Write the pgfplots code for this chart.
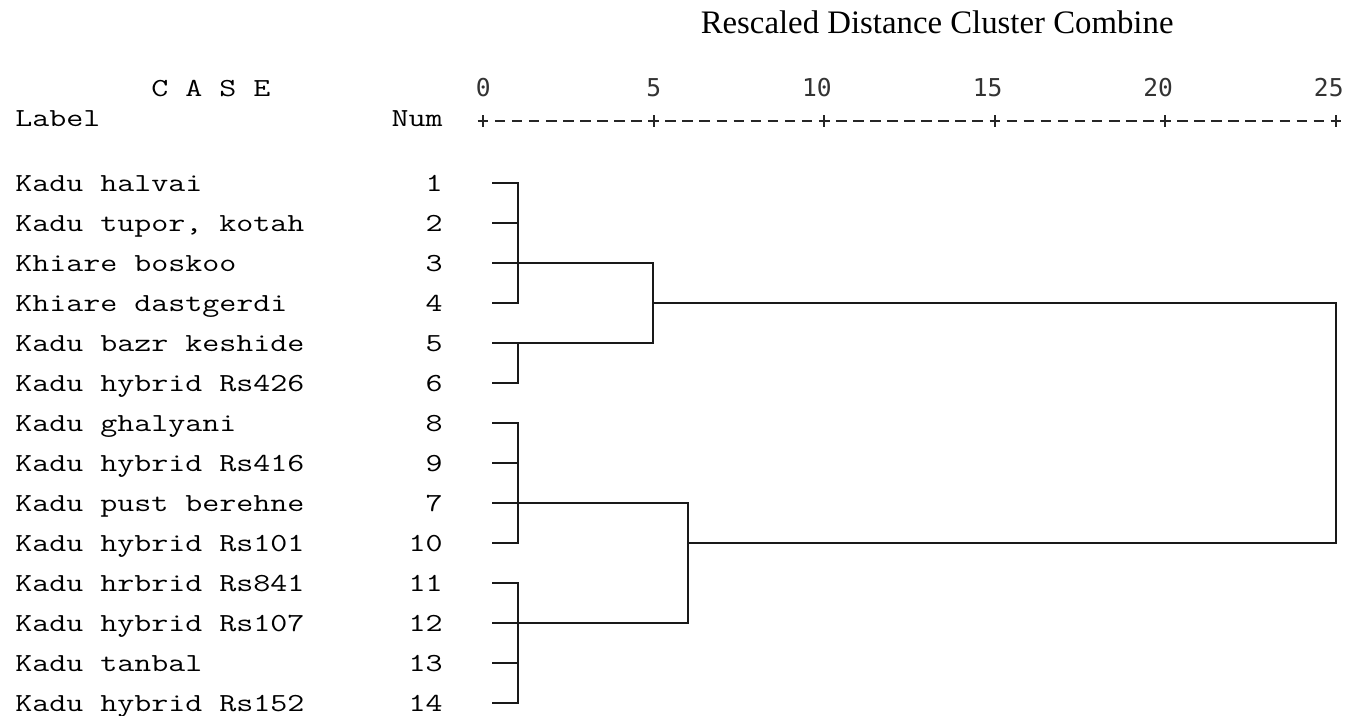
\documentclass[border=0pt]{standalone}
\usepackage{fontspec}
\setmainfont{Liberation Serif}
\newfontfamily\casefont[FakeStretch=1.27]{Latin Modern Mono}
\newfontfamily\tickfont{DejaVu Sans Mono}
\usepackage{pgfplots}
\pgfplotsset{compat=1.18}

% one x unit = one unit of rescaled distance, one y unit = one case row
\pgfplotstableread{
x y
0.27 1
1.03 1
1.03 4
0.27 4
nan nan
0.27 2
1.03 2
nan nan
0.27 3
4.99 3
4.99 5
0.27 5
nan nan
1.03 5
1.03 6
0.27 6
nan nan
4.99 4
25 4
25 10
6.02 10
nan nan
0.27 7
1.03 7
1.03 10
0.27 10
nan nan
0.27 8
1.03 8
nan nan
0.27 9
6.02 9
6.02 12
0.27 12
nan nan
0.27 11
1.03 11
1.03 14
0.27 14
nan nan
0.27 13
1.03 13
}\dendro

\begin{document}
\begin{tikzpicture}
\begin{axis}[
    at={(0,0)}, anchor=south west,
    scale only axis,
    width=673pt, height=358pt,
    xmin=-14.156, xmax=25.293,
    ymin=-3.583, ymax=14.318,
    y dir=reverse,
    hide axis,
    clip=false,
    unbounded coords=jump,
]
% dendrogram
\addplot[black!90, line width=1pt, mark=none] table {\dendro};

% ruler  +---------+---------+ ...
\addplot[black!85, line width=1pt, mark=none, dash pattern=on 5.3pt off 3.23pt]
    coordinates {(-0.155,-0.5575) (25.155,-0.5575)};
\addplot[black!85, only marks, mark=|, mark size=3pt, mark options={line width=1pt}]
    coordinates {(0,-0.5575) (5,-0.5575) (10,-0.5575) (15,-0.5575) (20,-0.5575) (25,-0.5575)};

% scale numbers
\foreach \t in {0,5,10,15,20,25} {
    \edef\tmp{\noexpand\node[anchor=base east, inner sep=0pt, font=\noexpand\tickfont\noexpand\fontsize{12.3pt}{14pt}\noexpand\selectfont, text=black!80]
        at (axis cs:\t+0.234,-1.1825) {\t};}
    \tmp
}

% headings
\node[anchor=base, inner sep=0pt, font=\fontsize{16.4pt}{19pt}\selectfont]
    at (axis cs:13.31,-2.75) {Rescaled Distance Cluster Combine};
\node[anchor=base west, inner sep=0pt, font=\casefont\fontsize{13pt}{16pt}\selectfont]
    at (axis cs:-9.73,-1.1825) {C A S E};
\node[anchor=base west, inner sep=0pt, font=\casefont\fontsize{13pt}{16pt}\selectfont]
    at (axis cs:-13.716,-0.415) {Label};
\node[anchor=base east, inner sep=0pt, font=\casefont\fontsize{13pt}{16pt}\selectfont]
    at (axis cs:-1.172,-0.415) {Num};

% case labels and numbers
\def\rowlab#1#2#3{%
    \node[anchor=base west, inner sep=0pt, font=\casefont\fontsize{13pt}{16pt}\selectfont]
        at (axis cs:-13.716,#1+0.21) {#2};
    \node[anchor=base east, inner sep=0pt, font=\casefont\fontsize{13pt}{16pt}\selectfont]
        at (axis cs:-1.172,#1+0.21) {#3};
}
\rowlab{1}{Kadu halvai}{1}
\rowlab{2}{Kadu tupor, kotah}{2}
\rowlab{3}{Khiare boskoo}{3}
\rowlab{4}{Khiare dastgerdi}{4}
\rowlab{5}{Kadu bazr keshide}{5}
\rowlab{6}{Kadu hybrid Rs426}{6}
\rowlab{7}{Kadu ghalyani}{8}
\rowlab{8}{Kadu hybrid Rs416}{9}
\rowlab{9}{Kadu pust berehne}{7}
\rowlab{10}{Kadu hybrid Rs101}{10}
\rowlab{11}{Kadu hrbrid Rs841}{11}
\rowlab{12}{Kadu hybrid Rs107}{12}
\rowlab{13}{Kadu tanbal}{13}
\rowlab{14}{Kadu hybrid Rs152}{14}
\end{axis}
\pgfresetboundingbox
\path[use as bounding box] (0,0) rectangle (673pt,358pt);
\end{tikzpicture}
\end{document}
